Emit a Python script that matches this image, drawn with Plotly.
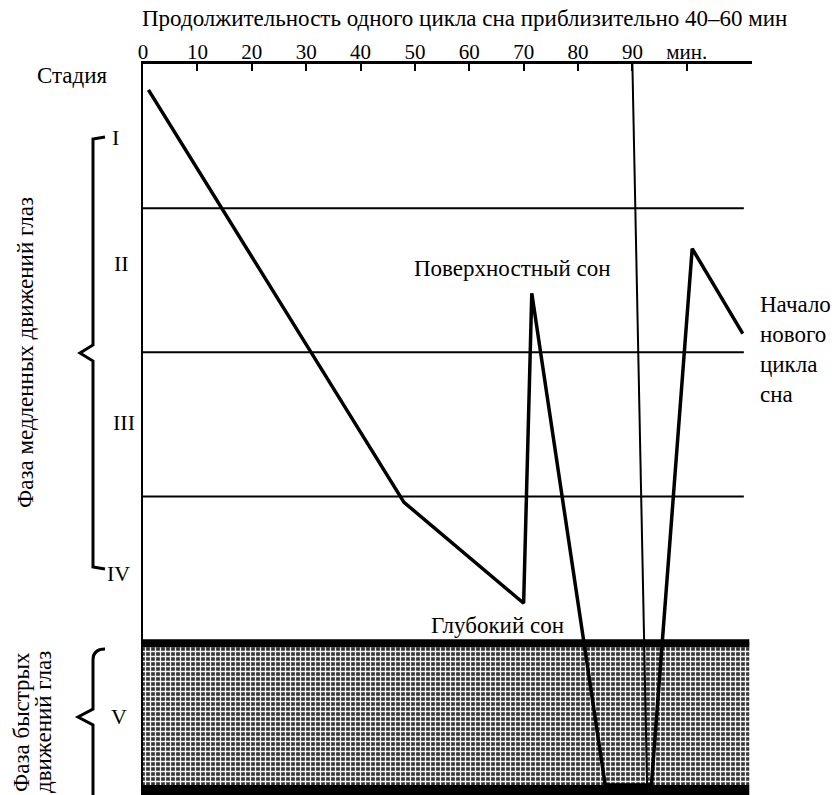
import plotly.graph_objects as go

# ---- data ----
minutes = [1, 48, 70, 71.5, 85, 93.5, 101, 110.3]
stage_depth = [0.18, 3.04, 3.74, 1.59, 5.0, 5.0, 1.28, 1.87]
tick_minutes = [0, 10, 20, 30, 40, 50, 60, 70, 80, 90, 100]
tick_labels = ['0', '10', '20', '30', '40', '50', '60', '70', '80', '90', 'мин.']
stage_names = ['I', 'II', 'III', 'IV', 'V']
stage_boundaries = [1, 2, 3]
rem_stage = [4, 5]
cycle_minute = 90

W, H = 832, 795
L, T, R, B = 143, 64, 80, 0
XMAX = 112
YMAX = 5.07
pw = W - L - R
ph = H - T - B


def px(xp):
    return (xp - L) / pw


def py(yp):
    return (H - B - yp) / ph


FONT = "Liberation Serif"
FS = 23
fig = go.Figure()

# REM stage texture
fig.add_trace(go.Scatter(
    x=[0, 111.5, 111.5, 0, 0],
    y=[rem_stage[0], rem_stage[0], rem_stage[1], rem_stage[1], rem_stage[0]],
    mode='lines', line=dict(width=0), fill='toself',
    fillcolor='rgba(0,0,0,0)',
    fillpattern=dict(shape='+', bgcolor='#333333', fgcolor='#f4f4f4',
                     size=5, solidity=0.45, fillmode='replace'),
    hoverinfo='skip', showlegend=False))

# sleep curve
fig.add_trace(go.Scatter(
    x=minutes, y=stage_depth, mode='lines',
    line=dict(color='black', width=3.5), showlegend=False))

shapes = []
for b in stage_boundaries:
    shapes.append(dict(type='line', xref='x', yref='y', x0=0, x1=110.5, y0=b, y1=b,
                       line=dict(color='black', width=2)))
# thick band lines of REM stage
shapes.append(dict(type='rect', xref='x', yref='y', x0=0, x1=111.5,
                   y0=rem_stage[0] - 0.01, y1=rem_stage[0] + 0.045,
                   fillcolor='black', line=dict(width=0)))
shapes.append(dict(type='rect', xref='x', yref='y', x0=0, x1=111.5,
                   y0=rem_stage[1], y1=YMAX + 0.05,
                   fillcolor='black', line=dict(width=0)))
# 90-minute line
shapes.append(dict(type='line', xref='x', yref='y', x0=cycle_minute, x1=cycle_minute + 2.7,
                   y0=0, y1=rem_stage[1], line=dict(color='black', width=2)))


def brace(top, mid, bot, xv, xt, xp):
    return ("M {a},{t} L {v},{t2} L {v},{m1} L {p},{m} L {v},{m2} L {v},{b2} L {a},{b}"
            .format(a=px(xt), v=px(xv), p=px(xp), t=py(top), t2=py(top + 2),
                    m1=py(mid - 8), m=py(mid), m2=py(mid + 8),
                    b2=py(bot - 2), b=py(bot)))


shapes.append(dict(type='path', xref='paper', yref='paper',
                   path=brace(137, 353, 569, 93, 105, 80),
                   line=dict(color='black', width=3)))
shapes.append(dict(type='path', xref='paper', yref='paper',
                   path=("M {a},{t} Q {v},{t} {v},{t2} L {v},{m1} L {p},{m} L {v},{m2} L {v},{b}"
                         .format(a=px(105), v=px(93), p=px(78), t=py(649), t2=py(660),
                                 m1=py(709), m=py(717), m2=py(725), b=py(800))),
                   line=dict(color='black', width=3)))

ann = []


def text(s, xp, yp, xanchor='center', size=FS, angle=0, align='center'):
    ann.append(dict(text=s, xref='paper', yref='paper', x=px(xp), y=py(yp),
                    xanchor=xanchor, yanchor='middle', showarrow=False,
                    textangle=angle, align=align,
                    font=dict(family=FONT, size=size, color='black')))


text('Продолжительность одного цикла сна приблизительно 40–60 мин', 464, 19)
text('Стадия', 72, 75)
label_pos = [(110, 137), (112, 263), (111, 422), (105, 573), (109, 716)]
for name, (xp, yp) in zip(stage_names, label_pos):
    text(name, xp, yp, xanchor='left', size=22)
text('Поверхностный сон', 512, 268)
text('Глубокий сон', 497, 625)
text('Начало<br>нового<br>цикла<br>сна', 758, 349, xanchor='left', align='left')
text('Фаза медленных движений глаз', 25, 353, angle=-90)
text('Фаза быстрых', 21, 722, angle=-90)
text('движений глаз', 43, 722, angle=-90)

fig.update_layout(
    width=W, height=H, margin=dict(l=L, r=R, t=T, b=B, pad=0),
    paper_bgcolor='white', plot_bgcolor='white',
    shapes=shapes, annotations=ann, showlegend=False,
    xaxis=dict(range=[0, XMAX], side='top', showgrid=False, zeroline=False,
               showline=True, linecolor='black', linewidth=3,
               ticks='inside', ticklen=7, tickwidth=2, tickcolor='black',
               tickvals=tick_minutes, ticktext=tick_labels,
               ticklabelstandoff=-6,
               tickfont=dict(family=FONT, size=21, color='black')),
    yaxis=dict(range=[YMAX, 0], showgrid=False, zeroline=False,
               showline=True, linecolor='black', linewidth=2,
               showticklabels=False, ticks=''),
)

fig.write_html("out.html", config={'displayModeBar': False},
               post_script="document.body.style.margin='0';")
